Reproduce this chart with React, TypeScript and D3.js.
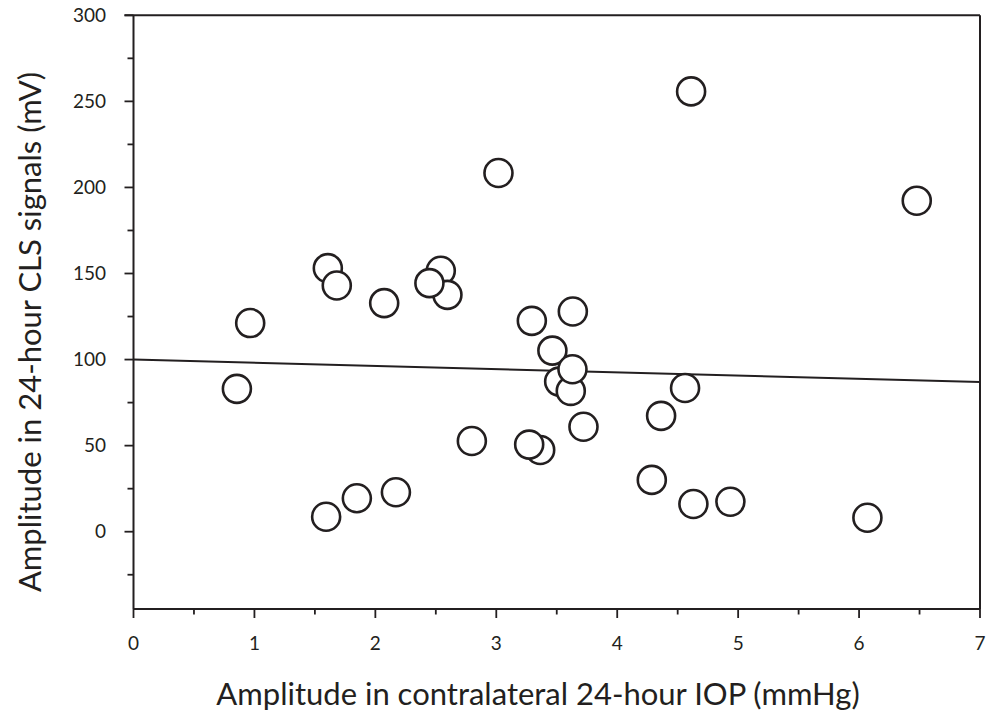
import React, { useRef, useEffect } from "react";
import * as d3 from "d3";

// Amplitude in contralateral 24-hour IOP (mmHg), back-to-front draw order
const iopAmp = [
  0.855, 0.965, 1.607, 1.681, 1.593, 1.847, 2.073, 2.17, 2.541, 2.596, 2.447,
  3.018, 2.798, 3.294, 3.363, 3.272, 3.464, 3.633, 3.52, 3.616, 3.63, 3.721,
  4.611, 4.286, 4.363, 4.561, 4.63, 4.936, 6.069, 6.477,
];
// Amplitude in 24-hour CLS signals (mV)
const clsAmp = [
  83.0, 121.2, 153.1, 143.0, 8.7, 19.4, 132.8, 22.9, 151.6, 137.6, 144.4,
  208.4, 52.7, 122.5, 47.5, 50.6, 105.2, 127.9, 87.2, 81.8, 94.4, 61.0,
  255.8, 30.1, 67.3, 83.5, 16.1, 17.4, 8.1, 192.3,
];

// regression line
const fitIntercept = 100.0;
const fitSlope = -1.87;

const xTicks = [0, 1, 2, 3, 4, 5, 6, 7];
const xMinorTicks = [0.5, 1.5, 2.5, 3.5, 4.5, 5.5, 6.5];
const yTicks = [0, 50, 100, 150, 200, 250, 300];
const yMinorTicks = [-25, 25, 75, 125, 175, 225, 275];

const xTitle = "Amplitude in contralateral 24-hour IOP (mmHg)";
const yTitle = "Amplitude in 24-hour CLS signals (mV)";

const ink = "#231f20";
const font = "Lato, 'Open Sans', sans-serif";

const App = () => {
  const svgRef = useRef(null);

  useEffect(() => {
    const svg = d3.select(svgRef.current);
    svg.selectAll("*").remove();

    const left = 133.5;
    const right = 980;
    const top = 15.3;
    const bottom = 609;

    const x = d3.scaleLinear().domain([0, 7]).range([left, right]);
    const y = d3.scaleLinear().domain([0, 300]).range([531.7, top]);

    // frame (top + right)
    svg.append("line")
      .attr("x1", left - 9).attr("x2", right)
      .attr("y1", top).attr("y2", top)
      .attr("stroke", ink).attr("stroke-width", 2);
    svg.append("line")
      .attr("x1", right).attr("x2", right)
      .attr("y1", top).attr("y2", bottom)
      .attr("stroke", ink).attr("stroke-width", 2);

    // axes
    svg.append("line")
      .attr("x1", left).attr("x2", left)
      .attr("y1", top).attr("y2", bottom)
      .attr("stroke", ink).attr("stroke-width", 2);
    svg.append("line")
      .attr("x1", left).attr("x2", right)
      .attr("y1", bottom).attr("y2", bottom)
      .attr("stroke", ink).attr("stroke-width", 2);

    const ticks = svg.append("g").attr("stroke", ink).attr("stroke-width", 1.8);
    ticks.selectAll(".yt").data(yTicks).enter().append("line")
      .attr("x1", left - 9).attr("x2", left)
      .attr("y1", (d) => y(d)).attr("y2", (d) => y(d));
    ticks.selectAll(".ym").data(yMinorTicks).enter().append("line")
      .attr("x1", left - 6).attr("x2", left)
      .attr("y1", (d) => y(d)).attr("y2", (d) => y(d));
    ticks.selectAll(".xt").data(xTicks).enter().append("line")
      .attr("x1", (d) => x(d)).attr("x2", (d) => x(d))
      .attr("y1", bottom).attr("y2", bottom + 9);
    ticks.selectAll(".xm").data(xMinorTicks).enter().append("line")
      .attr("x1", (d) => x(d)).attr("x2", (d) => x(d))
      .attr("y1", bottom).attr("y2", bottom + 5.5);

    // tick labels
    svg.append("g").selectAll("text").data(yTicks).enter().append("text")
      .attr("x", 106).attr("y", (d) => y(d))
      .attr("dy", "0.35em")
      .attr("text-anchor", "end")
      .attr("font-family", font).attr("font-size", 19)
      .attr("fill", ink)
      .text((d) => d);
    svg.append("g").selectAll("text").data(xTicks).enter().append("text")
      .attr("x", (d) => x(d)).attr("y", 650)
      .attr("text-anchor", "middle")
      .attr("font-family", font).attr("font-size", 19)
      .attr("fill", ink)
      .text((d) => d);

    // axis titles
    svg.append("text")
      .attr("x", 538).attr("y", 705)
      .attr("text-anchor", "middle")
      .attr("font-family", font).attr("font-size", 31)
      .attr("fill", ink)
      .text(xTitle);
    svg.append("text")
      .attr("transform", "translate(41,332) rotate(-90)")
      .attr("text-anchor", "middle")
      .attr("font-family", font).attr("font-size", 31)
      .attr("fill", ink)
      .text(yTitle);

    // regression line
    svg.append("line")
      .attr("x1", x(0)).attr("x2", x(7))
      .attr("y1", y(fitIntercept)).attr("y2", y(fitIntercept + fitSlope * 7))
      .attr("stroke", ink).attr("stroke-width", 2);

    // points
    const pts = iopAmp.map((v, i) => ({ x: v, y: clsAmp[i] }));
    svg.append("g").selectAll("circle").data(pts).enter().append("circle")
      .attr("cx", (d) => x(d.x))
      .attr("cy", (d) => y(d.y))
      .attr("r", 14)
      .attr("fill", "#fff")
      .attr("stroke", ink)
      .attr("stroke-width", 2.6);
  }, []);

  return (
    <svg
      ref={svgRef}
      width={995}
      height={713}
      style={{ position: "absolute", left: 0, top: 0, background: "#fff" }}
    ></svg>
  );
};

export default App;
